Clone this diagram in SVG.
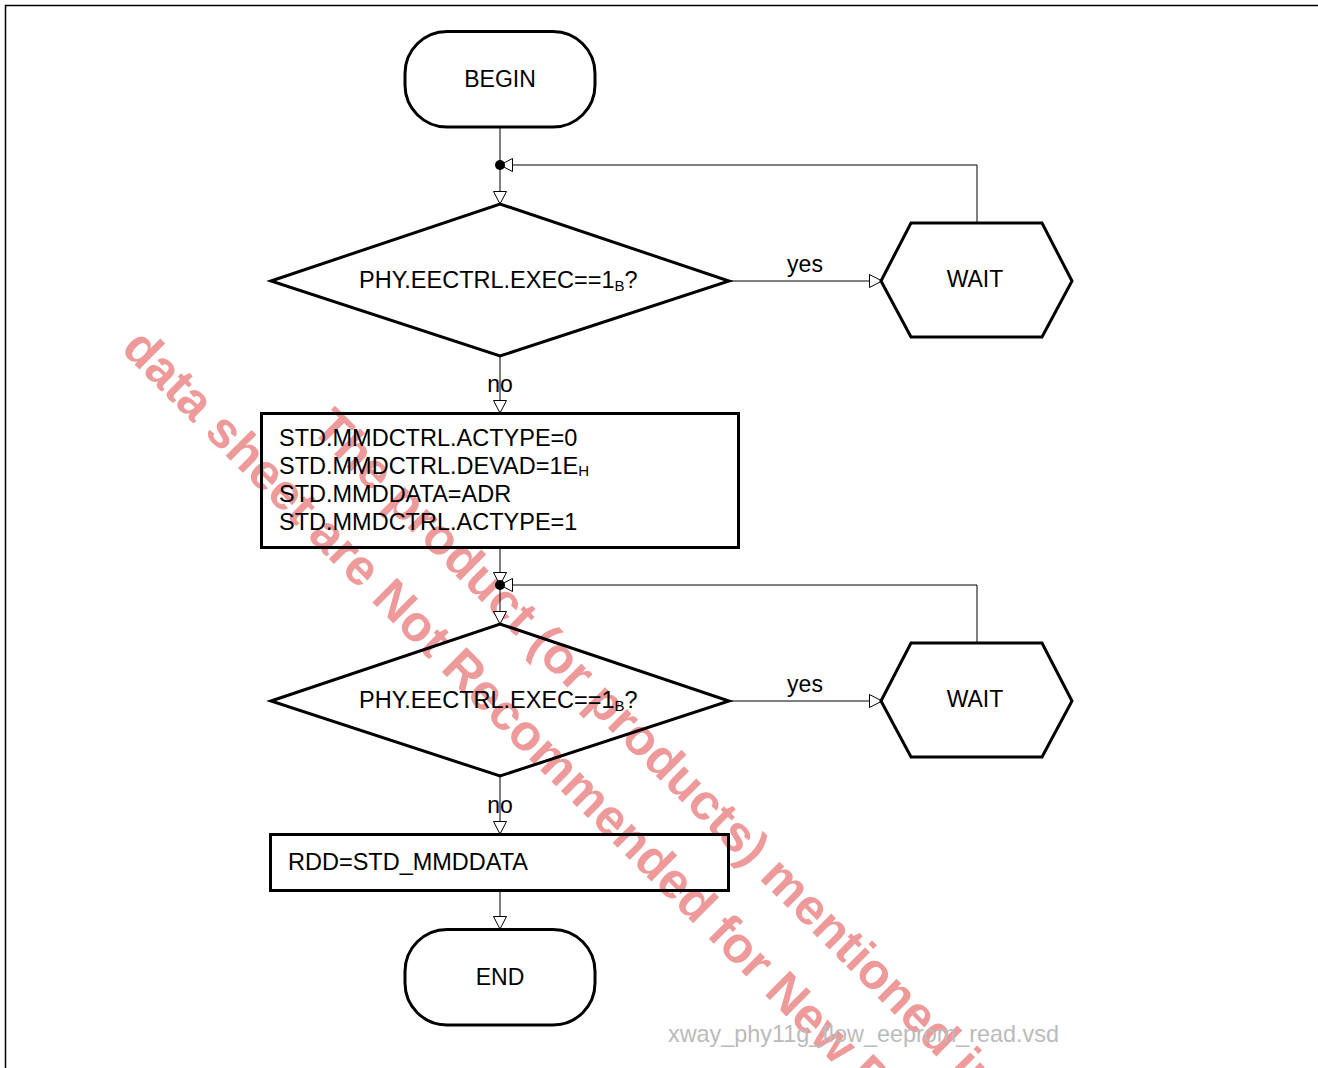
<svg xmlns="http://www.w3.org/2000/svg" width="1318" height="1068" viewBox="0 0 1318 1068">
<defs>
<style>
.shape{fill:none;stroke:#000;stroke-width:3;stroke-linejoin:miter}
.conn{fill:none;stroke:#000;stroke-width:1}
.t{font-family:"Liberation Sans",Arial,sans-serif;font-size:23px;fill:#000}
.b{font-size:23.5px}
.c{text-anchor:middle}
.sub{font-size:15px}
.wm{font-family:"Liberation Sans",Arial,sans-serif;font-size:50.5px;font-weight:bold;fill:#ee9a9a}
.foot{font-family:"Liberation Sans",Arial,sans-serif;font-size:23.4px;fill:#bbbbbb}
</style>
<marker id="arr" markerUnits="userSpaceOnUse" markerWidth="16" markerHeight="16" refX="13" refY="7" orient="auto">
<path d="M0.5,0.5 L13,7 L0.5,13.5 Z" fill="#fff" stroke="#000" stroke-width="1"/>
</marker>
</defs>
<rect width="1318" height="1068" fill="#fff"/>
<path d="M5.5,1068 V5.5 H1318" fill="none" stroke="#000" stroke-width="1.5"/>

<g id="watermark">
<text class="wm" transform="translate(310,430) rotate(45)">The product (or products) mentioned in</text>
<text class="wm" transform="translate(120,350) rotate(45)">data sheet are Not Recommended for New D</text>
</g>

<g id="connectors">
<path class="conn" d="M500,127 V204" marker-end="url(#arr)"/>
<path class="conn" d="M977,222 V165 H500" marker-end="url(#arr)"/>
<path class="conn" d="M729,281 H882" marker-end="url(#arr)"/>
<path class="conn" d="M500,356 V413" marker-end="url(#arr)"/>
<path class="conn" d="M500,548 V585" marker-end="url(#arr)"/>
<path class="conn" d="M500,585 V624" marker-end="url(#arr)"/>
<path class="conn" d="M977,642 V585 H500" marker-end="url(#arr)"/>
<path class="conn" d="M729,701 H882" marker-end="url(#arr)"/>
<path class="conn" d="M500,777 V834" marker-end="url(#arr)"/>
<path class="conn" d="M500,891 V929" marker-end="url(#arr)"/>
<circle cx="500" cy="165" r="5" fill="#000"/>
<circle cx="500" cy="585" r="5" fill="#000"/>
<text class="t c" x="805" y="272">yes</text>
<text class="t c" x="500" y="392">no</text>
<text class="t c" x="805" y="692">yes</text>
<text class="t c" x="500" y="813">no</text>
</g>

<g id="begin">
<rect class="shape" x="405" y="31.5" width="190" height="95.5" rx="42" ry="42"/>
<text class="t c" x="500" y="87">BEGIN</text>
</g>

<g id="decision1">
<polygon class="shape" points="271,281 500,204 729,281 500,356"/>
<text class="t b" x="359" y="288">PHY.EECTRL.EXEC==1<tspan class="sub" dy="3">B</tspan><tspan dy="-3">?</tspan></text>
</g>

<g id="wait1">
<polygon class="shape" points="881,281 911,223 1042,223 1072,281 1042,337 911,337"/>
<text class="t c" x="975" y="287">WAIT</text>
</g>

<g id="process1">
<rect class="shape" x="261.5" y="413.5" width="477" height="134"/>
<text class="t b" x="279" y="446">STD.MMDCTRL.ACTYPE=0</text>
<text class="t b" x="279" y="474">STD.MMDCTRL.DEVAD=1E<tspan class="sub" dy="2">H</tspan></text>
<text class="t b" x="279" y="502">STD.MMDDATA=ADR</text>
<text class="t b" x="279" y="530">STD.MMDCTRL.ACTYPE=1</text>
</g>

<g id="decision2">
<polygon class="shape" points="271,701 500,624 729,701 500,776"/>
<text class="t b" x="359" y="708">PHY.EECTRL.EXEC==1<tspan class="sub" dy="3">B</tspan><tspan dy="-3">?</tspan></text>
</g>

<g id="wait2">
<polygon class="shape" points="881,701 911,643 1042,643 1072,701 1042,757 911,757"/>
<text class="t c" x="975" y="707">WAIT</text>
</g>

<g id="process2">
<rect class="shape" x="270.5" y="834.5" width="458" height="56"/>
<text class="t b" x="288" y="870">RDD=STD_MMDDATA</text>
</g>

<g id="end">
<rect class="shape" x="405" y="929.5" width="190" height="95.5" rx="42" ry="42"/>
<text class="t c" x="500" y="985">END</text>
</g>

<text class="foot" x="668" y="1042">xway_phy11g_flow_eeprom_read.vsd</text>
</svg>
